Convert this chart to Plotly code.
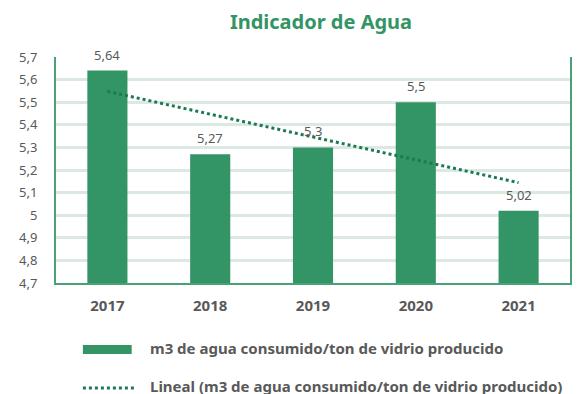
import numpy as np
import plotly.graph_objects as go

# Data
years = ["2017", "2018", "2019", "2020", "2021"]
water_per_ton = [5.64, 5.27, 5.30, 5.50, 5.02]
series_name = "m3 de agua consumido/ton de vidrio producido"
trend_name = "Lineal (m3 de agua consumido/ton de vidrio producido)"
title_text = "Indicador de Agua"

BAR = "#339465"
TREND = "#1b7a52"
GRID = "#dce9e2"
AXIS = "#48a273"
TEXT = "#595959"
FONT = "Noto Sans"

W, H = 582, 394
L, R, T, B = 56, 10, 57, 111


def px(x):
    return (x - L) / (W - L - R)


def py(y):
    return (H - B - y) / (H - T - B)


def fmt(v):
    s = f"{v:.2f}".rstrip("0").rstrip(".")
    return s.replace(".", ",")


# year positions along the x axis
idx = np.arange(len(years))

# Linear trend of the series (least squares over the year index)
slope, intercept = np.polyfit(idx, water_per_ton, 1)
trend = slope * idx + intercept

fig = go.Figure()
fig.add_trace(go.Bar(
    x=idx, y=water_per_ton, name=series_name,
    marker=dict(color=BAR, line=dict(width=0)),
    showlegend=False,
))
fig.add_trace(go.Scatter(
    x=idx, y=trend, name=trend_name, mode="lines",
    line=dict(color=TREND, width=3, dash="dot"),
    showlegend=False,
))

# value labels above bars
for i, v in zip(idx, water_per_ton):
    fig.add_annotation(
        x=int(i), y=v, text=fmt(v), showarrow=False,
        yanchor="bottom", yshift=5,
        font=dict(family=FONT, size=13, color=TEXT),
    )

# legend drawn by hand
shapes = [
    dict(type="rect", xref="paper", yref="paper",
         x0=px(83), x1=px(132), y0=py(354), y1=py(345),
         fillcolor=BAR, line=dict(width=0)),
    dict(type="line", xref="paper", yref="paper",
         x0=px(83), x1=px(137), y0=py(388), y1=py(388),
         line=dict(color=TREND, width=3, dash="dot")),
]
for ytxt, txt in [(348, series_name), (386, trend_name)]:
    fig.add_annotation(
        xref="paper", yref="paper", x=px(148), y=py(ytxt),
        xanchor="left", yanchor="middle", showarrow=False,
        text=f"<b>{txt}</b>",
        font=dict(family=FONT, size=15, color=TEXT),
    )

fig.update_layout(
    width=W, height=H,
    margin=dict(l=L, r=R, t=T, b=B),
    paper_bgcolor="white", plot_bgcolor="white",
    separators=",.",
    bargap=0.61,
    shapes=shapes,
    title=dict(
        text=f"<b>{title_text}</b>",
        x=321 / W, xanchor="center", y=1 - 22 / H, yanchor="middle",
        font=dict(family=FONT, size=20, color=BAR),
    ),
    font=dict(family=FONT, color=TEXT),
)
fig.update_xaxes(
    range=[-0.5, len(years) - 0.5],
    tickmode="array", tickvals=idx, ticktext=[f"<b>{y}</b>" for y in years],
    showline=True, linecolor=AXIS, linewidth=2, showgrid=False,
    zeroline=False,
    tickfont=dict(family=FONT, size=15, color=TEXT),
    ticks="", ticklabelstandoff=8,
)
fig.update_yaxes(
    range=[4.7, 5.7], dtick=0.1, tick0=4.7,
    showline=True, mirror=True, linecolor=AXIS, linewidth=2,
    showgrid=True, gridcolor=GRID, gridwidth=2.5,
    zeroline=False, ticks="", ticklabelstandoff=14,
    tickformat=".1~f",
    tickfont=dict(family=FONT, size=13, color=TEXT),
)

fig.write_html("out.html")
